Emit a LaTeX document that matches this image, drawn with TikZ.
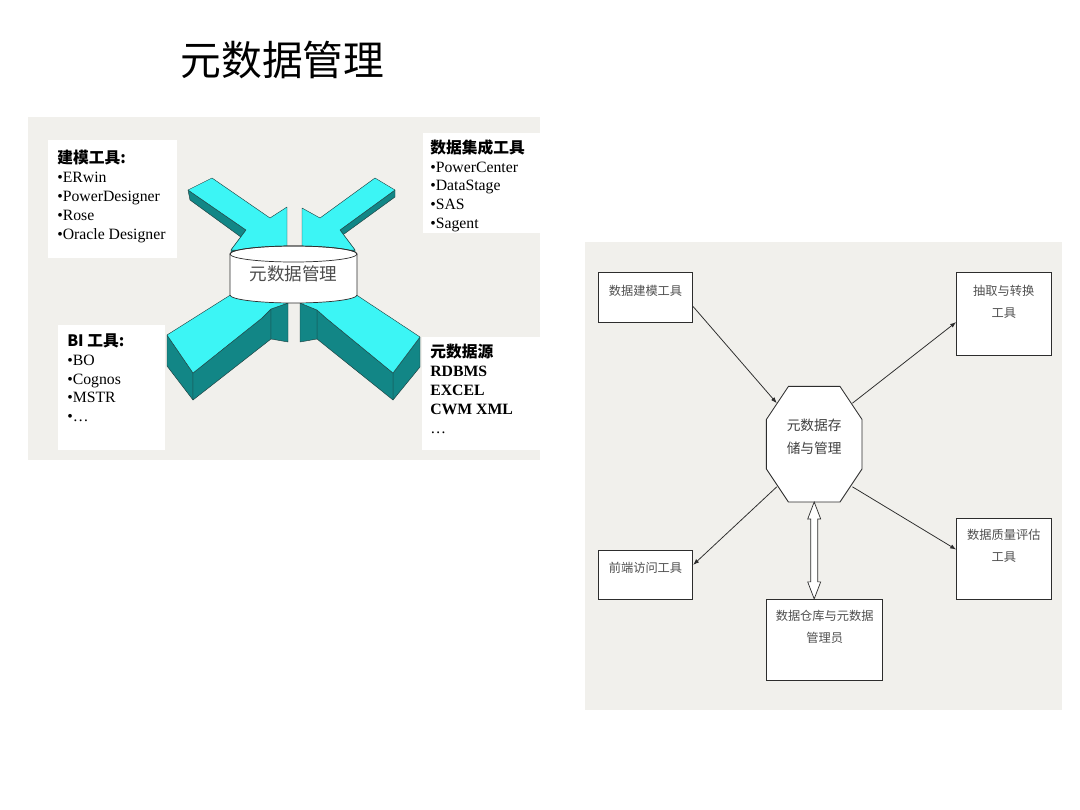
\documentclass[tikz,border=0pt]{standalone}
\usepackage{fontspec}
\setmainfont{Liberation Serif}
\newfontfamily\cjk{Noto Sans CJK SC}
\usetikzlibrary{arrows.meta, positioning, calc}

\definecolor{panelbg}{RGB}{241,240,236}
\definecolor{arrowtop}{RGB}{60,245,245}
\definecolor{arrowdark}{RGB}{18,134,134}
\definecolor{arrowedge}{RGB}{30,60,60}
\definecolor{textgray}{RGB}{80,80,80}
\definecolor{linegray}{RGB}{45,45,45}

\begin{document}
\begin{tikzpicture}[x=0.025cm, y=-0.025cm,
    every node/.style={inner sep=0pt},
    listtext/.style={anchor=north west, align=left, font=\fontsize{11.2}{13.5}\selectfont},
    face/.style={fill=arrowtop, draw=arrowedge, line width=0.3pt, line join=round},
    darkface/.style={fill=arrowdark, draw=arrowedge, line width=0.3pt, line join=round},
    box/.style={draw=linegray, fill=white, line width=0.6pt},
    boxtext/.style={font=\cjk\fontsize{8.7}{15.8}\selectfont, text=textgray, align=center},
    conn/.style={draw=linegray, line width=0.55pt, -{Latex[length=1.5mm, width=1.1mm]}}
]
\useasboundingbox (0,0) rectangle (1080,810);
\fill[white] (0,0) rectangle (1080,810);

% Title
\node[font=\cjk\fontsize{29}{34}\selectfont] (title) at (282.5,60) {元数据管理};

% ============ LEFT PANEL: arrows into the metadata store ============
\fill[panelbg] (28,117) rectangle (540,460);

% white label boxes
\fill[white] (48,140) rectangle (177,258);
\fill[white] (423,133) rectangle (540,233);
\fill[white] (58,325) rectangle (165,450);
\fill[white] (422,337) rectangle (540,450);

\node[listtext] (modeling) at (57,150) {{\cjk\bfseries 建模工具:}\\•ERwin\\•PowerDesigner\\•Rose\\•Oracle Designer};
\node[listtext] (integration) at (430,139) {{\cjk\bfseries 数据集成工具}\\•PowerCenter\\•DataStage\\•SAS\\•Sagent};
\node[listtext] (bitools) at (67,333) {{\cjk\bfseries BI 工具:}\\•BO\\•Cognos\\•MSTR\\•…};
\node[listtext] (sources) at (430,344) {{\cjk\bfseries 元数据源}\\\textbf{RDBMS}\\\textbf{EXCEL}\\\textbf{CWM XML}\\…};

% top-left arrow
\draw[darkface] (188,190) -- (246,230) -- (245,240) -- (190,200) -- cycle;
\draw[darkface] (246,230) -- (231,250) -- (231,259) -- (245,240) -- cycle;
\draw[face] (188,190) -- (212,178) -- (270,218) -- (287,207) -- (287,252) -- (231,250) -- (246,230) -- cycle;

% top-right arrow
\draw[darkface] (395,190) -- (340,230) -- (340,237) -- (395,197) -- cycle;
\draw[darkface] (340,230) -- (355,250) -- (355,257) -- (340,237) -- cycle;
\draw[face] (395,190) -- (375,178) -- (320,218) -- (302,208) -- (302,252) -- (355,250) -- (340,230) -- cycle;

% bottom-left arrow
\draw[darkface] (167,335) -- (193,373) -- (193,400) -- (167,366) -- cycle;
\draw[darkface] (193,373) -- (262,318) -- (271,309) -- (271,339) -- (193,400) -- cycle;
\draw[darkface] (271,309) -- (288,303) -- (288,342) -- (271,339) -- cycle;
\draw[face] (167,335) -- (193,373) -- (262,318) -- (271,309) -- (288,303) -- (288,285) -- (240,285) -- (232,294) -- cycle;

% bottom-right arrow
\draw[darkface] (420,337) -- (393,373) -- (393,400) -- (420,367) -- cycle;
\draw[darkface] (393,373) -- (326,318) -- (317,310) -- (317,339) -- (393,400) -- cycle;
\draw[darkface] (317,310) -- (300,303) -- (300,342) -- (317,339) -- cycle;
\draw[face] (420,337) -- (393,373) -- (326,318) -- (317,310) -- (300,303) -- (300,285) -- (347,285) -- (355,294) -- cycle;

% metadata cylinder
\draw[fill=white, draw=linegray, line width=0.5pt] (230,254) -- (230,295) arc[start angle=180, end angle=0, x radius=63.5, y radius=8]
    -- (357,254) arc[start angle=0, end angle=-180, x radius=63.5, y radius=8] -- cycle;
\draw[draw=linegray, line width=0.5pt] (293.5,254) ellipse [x radius=63.5, y radius=8];
\node[font=\cjk\fontsize{12.5}{15}\selectfont, text=black!70] (meta) at (293.5,274) {元数据管理};

% ============ RIGHT PANEL: metadata store and its tools ============
\fill[panelbg] (585,242) rectangle (1062,710);

% octagon store
\node[minimum width=2.375cm, minimum height=2.875cm] (store) at (814.2,444.2) {};
\draw[box] ([xshift=0.55cm]store.north west) -- ([xshift=-0.55cm]store.north east)
    -- ([yshift=-0.825cm]store.north east) -- ([yshift=0.825cm]store.south east)
    -- ([xshift=-0.55cm]store.south east) -- ([xshift=0.55cm]store.south west)
    -- ([yshift=0.825cm]store.south west) -- ([yshift=-0.825cm]store.north west) -- cycle;
\coordinate (store-nw) at ([shift={(0.26cm,-0.42cm)}]store.north west);
\coordinate (store-ne) at ([shift={(-0.24cm,-0.42cm)}]store.north east);
\coordinate (store-sw) at ([shift={(0.26cm,0.38cm)}]store.south west);
\coordinate (store-se) at ([shift={(-0.24cm,0.38cm)}]store.south east);
\node[font=\cjk\fontsize{9.75}{16.5}\selectfont, text=black!75, align=center] (store-txt) at ([yshift=0.18cm]store.center) {元数据存\\储与管理};

\node[box, minimum width=2.36cm, minimum height=1.25cm] (model) at (645.5,297.3) {};
\node[boxtext, below=0.33cm of model.north] (model-txt) {数据建模工具};

\node[box, minimum width=2.36cm, minimum height=2.07cm] (extract) at (1003.8,313.7) {};
\node[boxtext, below=0.33cm of extract.north] (extract-txt) {抽取与转换\\工具};

\node[box, minimum width=2.36cm, minimum height=1.215cm] (frontend) at (645.5,575) {};
\node[boxtext, below=0.28cm of frontend.north] (frontend-txt) {前端访问工具};

\node[box, minimum width=2.36cm, minimum height=2.03cm] (quality) at (1003.8,558.8) {};
\node[boxtext, below=0.27cm of quality.north] (quality-txt) {数据质量评估\\工具};

\node[box, minimum width=2.9cm, minimum height=2.02cm] (admin) at (824.7,639.7) {};
\node[boxtext, below=0.27cm of admin.north] (admin-txt) {数据仓库与元数据\\管理员};

% connectors
\draw[conn] (model.-11) -- (store-nw);
\draw[conn] (store-ne) -- (extract.190);
\draw[conn] (store-sw) -- (frontend.12);
\draw[conn] (store-se) -- (quality.169);

% hollow double arrow between store and administrator
\draw[box, line width=0.5pt] (store.south) -- ++(6.5,17) -- ++(-3,0) -- ($(store.south |- admin.north)+(3.5,-17)$)
    -- ++(3,0) -- (store.south |- admin.north) -- ++(-6.5,-17) -- ++(3,0)
    -- ($(store.south)+(-3.5,17)$) -- ++(-3,0) -- cycle;

\end{tikzpicture}
\end{document}
